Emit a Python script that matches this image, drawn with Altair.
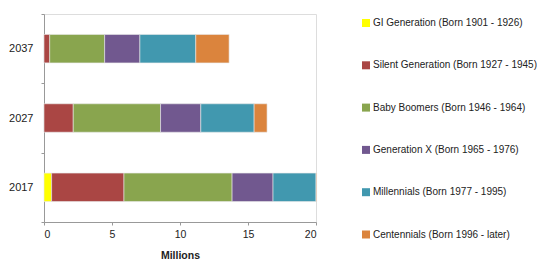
import altair as alt
import pandas as pd

years = ["2017", "2027", "2037"]
generations = [
    "GI Generation (Born 1901 - 1926)",
    "Silent Generation (Born 1927 - 1945)",
    "Baby Boomers (Born 1946 - 1964)",
    "Generation X (Born 1965 - 1976)",
    "Millennials (Born 1977 - 1995)",
    "Centennials (Born 1996 - later)",
]
colors = ["#FFFF00", "#AA4644", "#89A54E", "#71588F", "#4198AF", "#DB843D"]

# values in millions, per year, per generation
gi = [0.56, 0.0, 0.0]
silent = [5.32, 2.15, 0.42]
boomers = [7.95, 6.42, 4.04]
genx = [3.01, 2.96, 2.59]
millennials = [3.16, 3.92, 4.11]
centennials = [0.05, 0.95, 2.45]

series = [gi, silent, boomers, genx, millennials, centennials]
rows = []
for gi_idx, (g, vals) in enumerate(zip(generations, series)):
    for y, v in zip(years, vals):
        rows.append({"Year": y, "Generation": g, "Value": v, "order": gi_idx})
df = pd.DataFrame(rows)

chart = alt.Chart(df).mark_bar(
    stroke="#e8e8e8", strokeWidth=0.6, height=alt.RelativeBandSize(0.41)
).encode(
    y=alt.Y("Year:N", sort=["2037", "2027", "2017"],
            scale=alt.Scale(paddingInner=0, paddingOuter=0),
            axis=alt.Axis(title=None, labelFontSize=11, labelColor="#222",
                          tickBand="extent", tickSize=3, tickColor="#999",
                          domainColor="#999", labelPadding=8)),
    x=alt.X("Value:Q", stack="zero",
            scale=alt.Scale(domain=[0, 20], nice=False),
            axis=alt.Axis(title="Millions", values=[0, 5, 10, 15, 20], grid=False,
                          labelFontSize=10.5, labelColor="#222", titleFontSize=10.5,
                          titleFontWeight="bold", titleColor="#222",
                          tickSize=3, tickColor="#999", domainColor="#999",
                          labelPadding=4, titlePadding=11)),
    color=alt.Color("Generation:N", sort=generations,
                    scale=alt.Scale(domain=generations, range=colors),
                    legend=alt.Legend(title=None, orient="none", legendX=317, legendY=4,
                                      symbolType="square", symbolSize=64,
                                      symbolStrokeWidth=0, labelFontSize=10,
                                      labelColor="#222", rowPadding=32.3, padding=0,
                                      labelLimit=300, labelOffset=2)),
    order=alt.Order("order:Q"),
).properties(width=272, height=208, padding={"left": 0, "top": 0, "right": 0, "bottom": 0}
).configure_view(stroke=None).configure(font="Liberation Sans")

chart.save("out.html", embed_options={"renderer": "svg", "actions": False})
